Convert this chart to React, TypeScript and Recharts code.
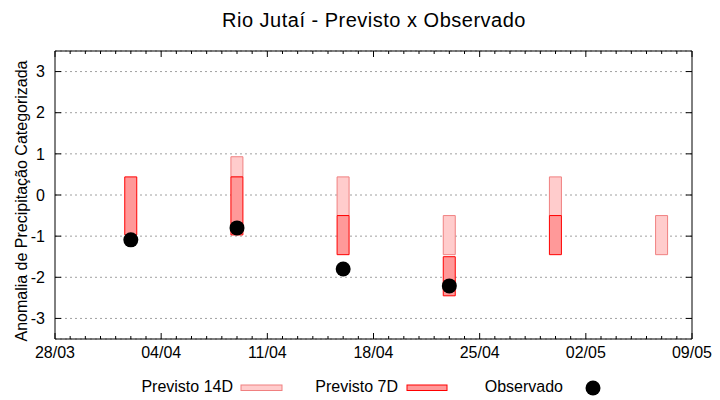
import React from "react";
import {
  Bar,
  CartesianGrid,
  ComposedChart,
  Scatter,
  XAxis,
  YAxis,
} from "recharts";

// days counted from 28/03
const days = [5, 12, 19, 26, 33, 40];
const previsto14: ([number, number] | null)[] = [
  null,
  [0.44, 0.93],
  [-0.5, 0.44],
  [-1.45, -0.5],
  [-0.5, 0.44],
  [-1.45, -0.5],
];
const previsto7: ([number, number] | null)[] = [
  [-0.97, 0.44],
  [-0.97, 0.44],
  [-1.45, -0.5],
  [-2.45, -1.5],
  [-1.45, -0.5],
  null,
];
const obsDays = [5, 12, 19, 26];
const observado = [-1.09, -0.8, -1.8, -2.21];

const majorDays = [0, 7, 14, 21, 28, 35, 42];
const xLabels = ["28/03", "04/04", "11/04", "18/04", "25/04", "02/05", "09/05"];
const yTicks = [-3, -2, -1, 0, 1, 2, 3];
const dailyTicks = Array.from({ length: 43 }, (_, i) => i);

const rows = days.map((day, i) => ({
  day,
  p14: previsto14[i],
  p7: previsto7[i],
}));
const obsRows = obsDays.map((day, i) => ({ day, obs: observado[i] }));

const FONT = "'Liberation Sans', Arial, sans-serif";

const BottomTick = (props: any) => {
  const { x, y, payload } = props;
  const idx = majorDays.indexOf(payload.value);
  return (
    <g>
      <line x1={x} y1={y} x2={x} y2={y - (idx >= 0 ? 6 : 3)} stroke="#000" />
      {idx >= 0 && (
        <text x={x} y={y + 19} textAnchor="middle" fontSize={16} fill="#000">
          {xLabels[idx]}
        </text>
      )}
    </g>
  );
};

const TopTick = (props: any) => {
  const { x, y, payload } = props;
  const major = majorDays.includes(payload.value);
  return <line x1={x} y1={y} x2={x} y2={y + (major ? 6 : 3)} stroke="#000" />;
};

const LeftTick = (props: any) => {
  const { x, y, payload } = props;
  return (
    <g>
      <line x1={x} y1={y} x2={x + 6} y2={y} stroke="#000" />
      <text x={x - 10} y={y} dy="0.36em" textAnchor="end" fontSize={16} fill="#000">
        {payload.value}
      </text>
    </g>
  );
};

const RightTick = (props: any) => {
  const { x, y } = props;
  return <line x1={x} y1={y} x2={x - 6} y2={y} stroke="#000" />;
};

export default function App() {
  return (
    <div
      style={{
        position: "absolute",
        left: 0,
        top: 0,
        width: 720,
        height: 400,
        fontFamily: FONT,
        background: "#fff",
      }}
    >
      <ComposedChart
        width={720}
        height={400}
        data={rows}
        margin={{ top: 41, right: 18, bottom: 31, left: 0 }}
      >
        <CartesianGrid
          xAxisId="a"
          vertical={false}
          stroke="#a0a0a0"
          strokeDasharray="2 3"
        />
        <XAxis
          xAxisId="a"
          dataKey="day"
          type="number"
          domain={[0, 42]}
          allowDataOverflow
          ticks={dailyTicks}
          interval={0}
          height={30}
          tickSize={0}
          tickMargin={0}
          tickLine={false}
          tick={<BottomTick />}
          stroke="#000"
        />
        <XAxis
          xAxisId="t"
          dataKey="day"
          type="number"
          orientation="top"
          domain={[0, 42]}
          allowDataOverflow
          ticks={dailyTicks}
          interval={0}
          height={10}
          tickSize={0}
          tickMargin={0}
          tickLine={false}
          tick={<TopTick />}
          stroke="#000"
        />
        <XAxis
          xAxisId="b"
          dataKey="day"
          type="number"
          domain={[0, 42]}
          allowDataOverflow
          hide
        />
        <YAxis
          type="number"
          domain={[-3.5, 3.5]}
          allowDataOverflow
          ticks={yTicks}
          interval={0}
          width={55}
          tickSize={0}
          tickMargin={0}
          tickLine={false}
          tick={<LeftTick />}
          stroke="#000"
        />
        <YAxis
          yAxisId="r"
          orientation="right"
          type="number"
          domain={[-3.5, 3.5]}
          allowDataOverflow
          ticks={yTicks}
          interval={0}
          width={10}
          tickSize={0}
          tickMargin={0}
          tickLine={false}
          tick={<RightTick />}
          stroke="#000"
        />
        <Bar
          xAxisId="a"
          dataKey="p14"
          barSize={12}
          fill="#ffcccc"
          stroke="#f08080"
          isAnimationActive={false}
        />
        <Bar
          xAxisId="b"
          dataKey="p7"
          barSize={12}
          fill="#ff9999"
          stroke="#ff0000"
          isAnimationActive={false}
        />
        <Scatter
          xAxisId="a"
          data={obsRows}
          dataKey="obs"
          fill="#000"
          isAnimationActive={false}
          shape={(p: any) => <circle cx={p.cx} cy={p.cy} r={7.5} fill="#000" />}
        />
      </ComposedChart>
      <svg
        width={720}
        height={400}
        style={{ position: "absolute", left: 0, top: 0, pointerEvents: "none" }}
        fontFamily={FONT}
      >
        <text x={374} y={27} textAnchor="middle" fontSize={20} letterSpacing={0.5} fill="#000">
          Rio Jutaí - Previsto x Observado
        </text>
        <text
          transform="translate(26.5,201) rotate(-90)"
          textAnchor="middle"
          fontSize={16}
          fill="#000"
        >
          Anomalia de Precipitação Categorizada
        </text>
        <text x={233} y={391.5} textAnchor="end" fontSize={16} fill="#000">
          Previsto 14D
        </text>
        <rect x={241} y={385} width={41} height={5.5} fill="#ffcccc" stroke="#f08080" />
        <text x={398} y={391.5} textAnchor="end" fontSize={16} fill="#000">
          Previsto 7D
        </text>
        <rect x={407} y={385} width={40} height={5.5} fill="#ff9999" stroke="#ff0000" />
        <text x={563} y={391.5} textAnchor="end" fontSize={16} fill="#000">
          Observado
        </text>
        <circle cx={593} cy={388} r={7.5} fill="#000" />
      </svg>
    </div>
  );
}
